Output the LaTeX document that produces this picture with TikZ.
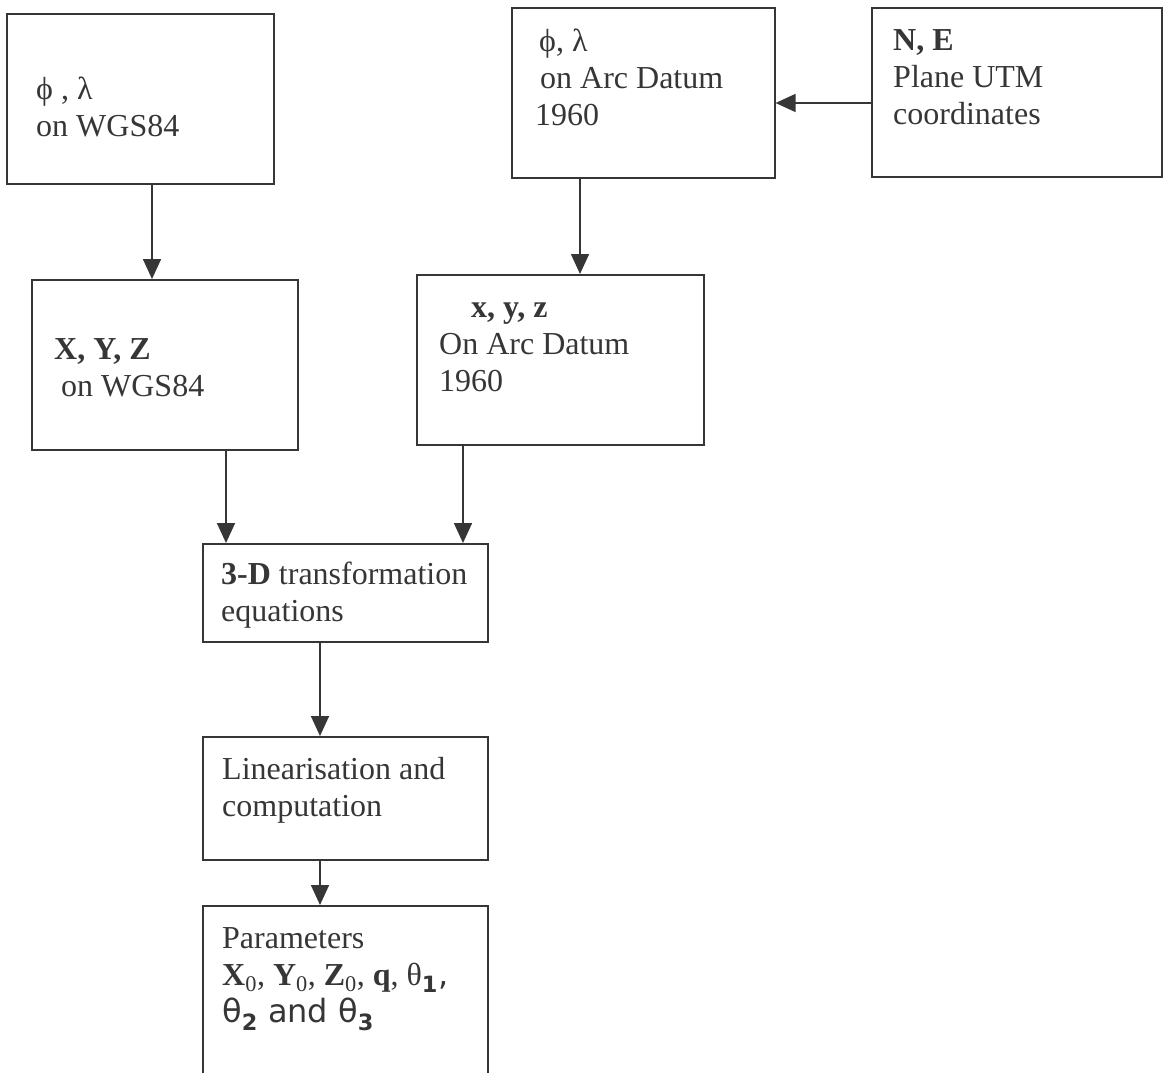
\documentclass[tikz,border=0pt]{standalone}
\usepackage{fontspec}
\setmainfont{Liberation Serif}
\newfontfamily\dejavu{DejaVu Sans}
\usetikzlibrary{arrows.meta}

\definecolor{tinta}{HTML}{363636}

\tikzset{
  caja/.style={draw=tinta, line width=1.6pt, rectangle, inner sep=0pt, anchor=north west},
  texto/.style={inner sep=0pt, anchor=north west, align=left, text=tinta,
    font=\fontsize{32}{37}\selectfont, execute at begin node=\strut},
  flecha/.style={draw=tinta, line width=1.6pt, -{Triangle[length=20pt,width=18pt]}},
}

\begin{document}
\begin{tikzpicture}[x=1pt, y=-1pt]

    \useasboundingbox (0,0) rectangle (1168,1072);

    % Cajas
    \node[caja, minimum width=267pt, minimum height=170pt] (wgs) at (6,13) {};
    \node[caja, minimum width=263pt, minimum height=170pt] (arc) at (511,7) {};
    \node[caja, minimum width=290pt, minimum height=169pt] (utm) at (871,7) {};
    \node[caja, minimum width=266pt, minimum height=170pt] (xyzw) at (31,279) {};
    \node[caja, minimum width=287pt, minimum height=170pt] (xyza) at (416,274) {};
    \node[caja, minimum width=285pt, minimum height=98pt] (trans) at (202,543) {};
    \node[caja, minimum width=285pt, minimum height=123pt] (lin) at (202,736) {};
    \node[caja, minimum width=285pt, minimum height=190pt] (param) at (202,905) {};

    % Textos
    \node[texto] (twgs) at (36,77) {ϕ , λ\\on WGS84};
    \node[texto] (tarc) at (535,29) {\hspace*{4pt}ϕ, λ\\\hspace*{5pt}on Arc Datum\\1960};
    \node[texto] (tutm) at (893,29) {\textbf{N, E}\\Plane UTM\\coordinates};
    \node[texto] (txyzw) at (54,338) {\textbf{X, Y, Z}\\\hspace*{7pt}on WGS84};
    \node[texto] (txyza) at (439,303) {\hspace*{32pt}\textbf{x, y, z}\\On Arc Datum\\1960};
    \node[texto] (ttrans) at (221,562) {\textbf{3-D} transformation\\equations};
    \node[texto] (tlin) at (222,757) {Linearisation and\\computation};
    \node[texto] (tparam) at (222,927) {Parameters\\
      \textbf{X}\textsubscript{0}, \textbf{Y}\textsubscript{0}, \textbf{Z}\textsubscript{0}, \textbf{q}, θ{\dejavu\textsubscript{\textbf{1}},}\\
      {\dejavu θ\textsubscript{\textbf{2}} and θ\textsubscript{\textbf{3}}}};

    % Flechas
    \coordinate (xa) at (152,0);
    \coordinate (xb) at (580,0);
    \coordinate (yc) at (0,103);
    \coordinate (xd) at (226,0);
    \coordinate (xe) at (463,0);
    \coordinate (xf) at (320,0);
    \draw[flecha] (wgs.south -| xa) -- (xyzw.north -| xa);
    \draw[flecha] (arc.south -| xb) -- (xyza.north -| xb);
    \draw[flecha] (utm.west |- yc) -- (arc.east |- yc);
    \draw[flecha] (xyzw.south -| xd) -- (trans.north -| xd);
    \draw[flecha] (xyza.south -| xe) -- (trans.north -| xe);
    \draw[flecha] (trans.south -| xf) -- (lin.north -| xf);
    \draw[flecha] (lin.south -| xf) -- (param.north -| xf);

\end{tikzpicture}
\end{document}
